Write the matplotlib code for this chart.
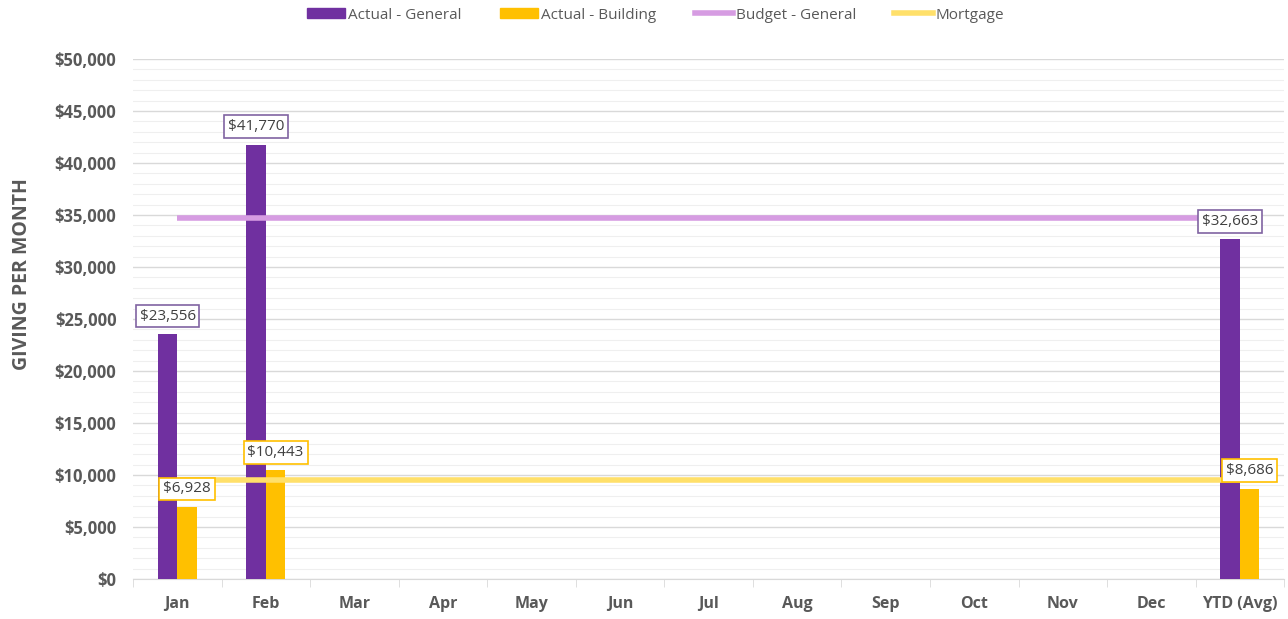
import matplotlib.pyplot as plt
from matplotlib.patches import Patch
from matplotlib.lines import Line2D
import numpy as np

plt.rcParams['font.family'] = ['Open Sans', 'DejaVu Sans']

# Data
months = ['Jan', 'Feb', 'Mar', 'Apr', 'May', 'Jun', 'Jul', 'Aug', 'Sep', 'Oct', 'Nov', 'Dec', 'YTD (Avg)']
actual_general = [23556, 41770, 0, 0, 0, 0, 0, 0, 0, 0, 0, 0, 32663]
actual_building = [6928, 10443, 0, 0, 0, 0, 0, 0, 0, 0, 0, 0, 8686]
budget_general = [34700] * 13
mortgage = [9500] * 13

purple = '#7030A0'
gold = '#FFC000'
budget_col = '#D69CE2'
mortgage_col = '#FFE06A'
text_col = '#595959'

fig = plt.figure(figsize=(12.88, 6.19), dpi=100)
ax = fig.add_axes([0.1033, 0.0646, 0.8937, 0.8401])

x = np.arange(len(months))
w = 0.22
b1 = ax.bar(x - w / 2, actual_general, w, color=purple, zorder=3)
b2 = ax.bar(x + w / 2, actual_building, w, color=gold, zorder=3)
ax.plot(x, budget_general, color=budget_col, lw=4, zorder=4, solid_capstyle='butt')
ax.plot(x, mortgage, color=mortgage_col, lw=4, zorder=4, solid_capstyle='butt')

# data labels
for bars, vals, ec in [(b1, actual_general, '#8064A2'), (b2, actual_building, '#FFC000')]:
    for rect, v in zip(bars, vals):
        if v == 0:
            continue
        ax.annotate(f'${v:,.0f}', (rect.get_x() + rect.get_width() / 2, v),
                    xytext=(0, 18), textcoords='offset pixels',
                    ha='center', va='center', fontsize=11, color='#404040', zorder=6,
                    bbox=dict(boxstyle='square,pad=0.25', fc='white', ec=ec, lw=1.2))

ax.set_xlim(-0.5, len(months) - 0.5)
ax.set_ylim(0, 50000)
ax.set_yticks(np.arange(0, 50001, 5000))
ax.set_yticks(np.arange(0, 50001, 1000), minor=True)
ax.set_yticklabels([f'${v:,.0f}' for v in np.arange(0, 50001, 5000)])
ax.grid(axis='y', which='major', color='#d9d9d9', lw=1, zorder=0)
ax.grid(axis='y', which='minor', color='#efefef', lw=0.8, zorder=0)
ax.tick_params(axis='y', which='both', length=0, labelsize=12, labelcolor=text_col, pad=12)

ax.set_xticks(x)
ax.set_xticklabels(months, fontweight='bold')
ax.set_xticks(np.arange(-0.5, len(months), 1), minor=True)
ax.tick_params(axis='x', which='major', length=0, labelsize=11.5, labelcolor=text_col, pad=12)
ax.tick_params(axis='x', which='minor', length=6, color='#d9d9d9')
for lbl in ax.get_yticklabels():
    lbl.set_fontweight('bold')

for s in ['top', 'right', 'left']:
    ax.spines[s].set_visible(False)
ax.spines['bottom'].set_color('#d9d9d9')

ax.set_ylabel('GIVING PER MONTH', fontsize=14, fontweight='bold', color=text_col)
ax.yaxis.set_label_coords(-0.088, 0.587)

handles = [Patch(color=purple), Patch(color=gold),
           Line2D([], [], color=budget_col, lw=4), Line2D([], [], color=mortgage_col, lw=4)]
labels = ['Actual - General', 'Actual - Building', 'Budget - General', 'Mortgage']
fig.legend(handles, labels, loc='upper center', bbox_to_anchor=(0.509, 1.01), ncol=4,
           frameon=False, fontsize=11, labelcolor=text_col, handlelength=2.5,
           handleheight=0.6, handletextpad=0.2, columnspacing=2.5)

fig.savefig('out.png', dpi=100)
